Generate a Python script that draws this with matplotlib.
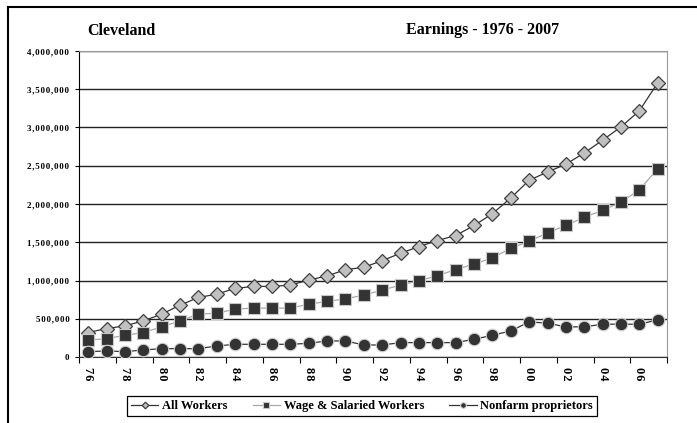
import matplotlib
matplotlib.use("Agg")
import matplotlib.pyplot as plt
from matplotlib.lines import Line2D
from matplotlib.ticker import FixedLocator, FuncFormatter

years = list(range(1976, 2008))

all_workers = [
    320000, 372000, 407000, 472000, 560000, 678000, 778000, 822000,
    897000, 923000, 923000, 940000, 1006000, 1059000, 1142000, 1172000,
    1260000, 1356000, 1444000, 1522000, 1588000, 1719000, 1873000, 2080000,
    2310000, 2419000, 2520000, 2668000, 2835000, 3009000, 3219000, 3587000,
]
wage_salaried = [
    220000, 240000, 284000, 319000, 394000, 472000, 560000, 573000,
    626000, 639000, 639000, 639000, 691000, 726000, 761000, 809000,
    875000, 940000, 997000, 1063000, 1142000, 1216000, 1295000, 1422000,
    1513000, 1623000, 1719000, 1828000, 1916000, 2025000, 2187000, 2463000,
]
nonfarm = [
    70000, 79000, 70000, 92000, 109000, 109000, 109000, 144000,
    166000, 166000, 166000, 166000, 179000, 210000, 210000, 157000,
    157000, 188000, 188000, 188000, 188000, 232000, 284000, 341000,
    459000, 442000, 394000, 394000, 429000, 429000, 429000, 486000,
]

serif = ["Liberation Serif", "DejaVu Serif"]

fig = plt.figure(figsize=(6.97, 4.23), dpi=100)
ax = fig.add_axes([79 / 697, 1 - 357 / 423, 588 / 697, 306 / 423])

x = list(range(len(years)))
ax.plot(x, all_workers, color="#333333", lw=0.9, marker="D", ms=7.5,
        mfc="#c0c0c0", mec="#404040", mew=0.9, label="All Workers", zorder=3)
ax.plot(x, wage_salaried, color="#a8a8a8", lw=0.9, marker="s", ms=8.5,
        mfc="#333333", mec="#c8c8c8", mew=0.8, label="Wage & Salaried Workers", zorder=4)
ax.plot(x, nonfarm, color="#333333", lw=0.9, marker="o", ms=9,
        mfc="#333333", mec="#d0d0d0", mew=0.8, label="Nonfarm proprietors", zorder=5)

ax.set_xlim(-0.5, len(years) - 0.5)
ax.set_ylim(0, 4000000)
ax.set_yticks(range(0, 4000001, 500000))
ax.yaxis.grid(True, color="#222222", lw=1.0)
ax.set_axisbelow(True)

def spaced(v, pos):
    s = "{:,}".format(int(v))
    return "\u200a".join(s)

ax.yaxis.set_major_formatter(FuncFormatter(spaced))
for lab in ax.get_yticklabels():
    lab.set_family(serif)
    lab.set_fontweight("bold")
    lab.set_fontsize(6.5)
ax.tick_params(axis="y", direction="out", length=3, width=0.8, pad=4)

# tick marks at category boundaries, labels at every second category
ax.xaxis.set_major_locator(FixedLocator([i - 0.5 for i in range(0, len(years) + 1, 2)]))
ax.xaxis.set_minor_locator(FixedLocator(list(range(0, len(years), 2))))
ax.xaxis.set_major_formatter(FuncFormatter(lambda v, p: ""))
ax.xaxis.set_minor_formatter(FuncFormatter(
    lambda v, p: "\u200a".join("{:02d}".format(years[int(round(v))] % 100))))
ax.tick_params(axis="x", which="major", direction="out", length=4, width=0.8)
ax.tick_params(axis="x", which="minor", length=0, pad=7)
for lab in ax.get_xticklabels(minor=True):
    lab.set_rotation(270)
    lab.set_family(serif)
    lab.set_fontweight("bold")
    lab.set_fontsize(9)

ax.spines["left"].set_color("black")
ax.spines["bottom"].set_color("#333333")
ax.spines["top"].set_color("#999999")
ax.spines["right"].set_color("#999999")

fig.text(87 / 697, 1 - 31 / 423, "Cleveland", family=serif, fontweight="bold",
         fontsize=11.5, va="center", ha="left")
fig.text(483 / 697, 1 - 30 / 423, "Earnings - 1976 - 2007", family=serif,
         fontweight="bold", fontsize=11.5, va="center", ha="center")

leg = fig.legend(loc="center", bbox_to_anchor=(362 / 697, 1 - 406 / 423), ncol=3,
                 prop={"family": serif, "weight": "bold", "size": 9},
                 markerscale=0.45, fancybox=False, edgecolor="black",
                 framealpha=1, borderpad=0.3, handlelength=2.2, columnspacing=2.0,
                 handletextpad=0.3)
leg.get_frame().set_linewidth(0.9)

# outer chart border
fig.add_artist(Line2D([8 / 697, 1], [1 - 7 / 423, 1 - 7 / 423], color="black", lw=1.5))
fig.add_artist(Line2D([8 / 697, 8 / 697], [0, 1 - 7 / 423], color="black", lw=1.5))

fig.savefig("out.png", dpi=100)
